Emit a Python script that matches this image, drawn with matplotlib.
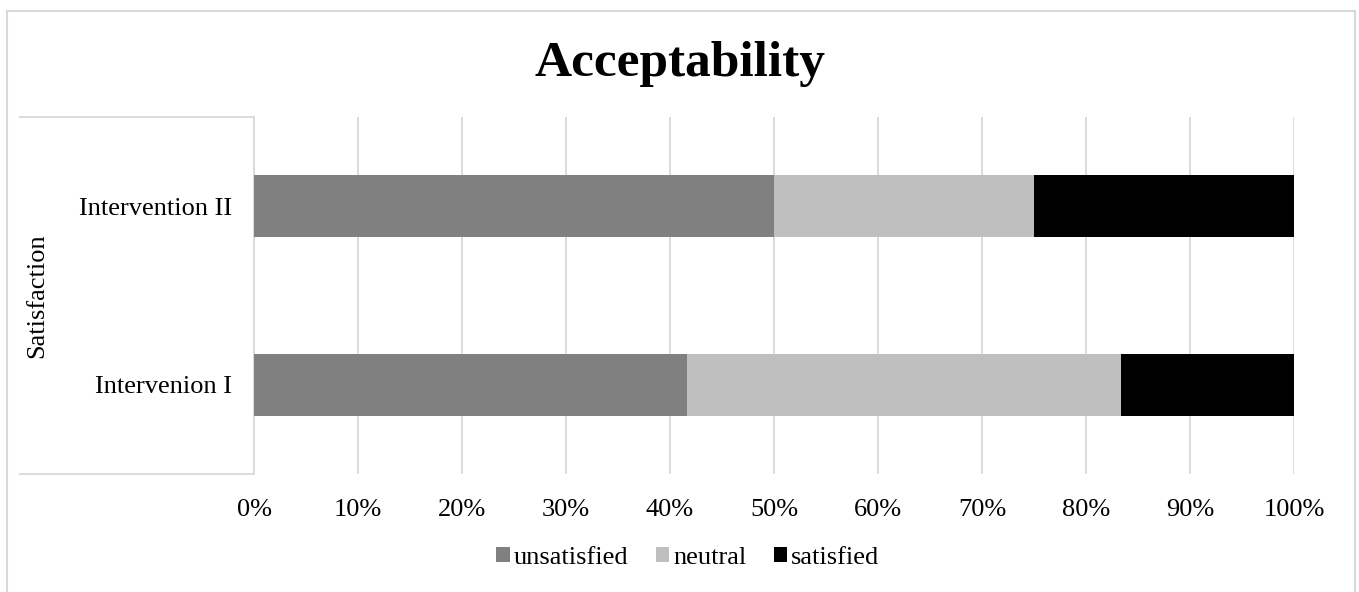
import numpy as np
import matplotlib
matplotlib.use("Agg")
import matplotlib.pyplot as plt
from matplotlib.lines import Line2D

# ── data ─────────────────────────────────────────────────────────────────────

categories   = ["Intervenion I", "Intervention II"]
unsatisfied  = [41.67, 50.0]
neutral      = [41.67, 25.0]
satisfied    = [16.66, 25.0]
series_names = ["unsatisfied", "neutral", "satisfied"]
colors       = ["#808080", "#BFBFBF", "#000000"]
x_ticks      = np.arange(0, 101, 10)
grid_c       = "#D9D9D9"

plt.rcParams["font.family"] = ["Liberation Serif", "DejaVu Serif"]

W, H = 1359, 592
fig = plt.figure(figsize=(W / 100, H / 100), dpi=100)

def fx(px): return px / W
def fy(py): return 1 - py / H

ax = fig.add_axes([fx(254), fy(474), fx(1294) - fx(254), fy(117) - fy(474)])

y = np.arange(len(categories))
left = np.zeros(len(categories))
for vals, name, c in zip([unsatisfied, neutral, satisfied], series_names, colors):
    ax.barh(y, vals, left=left, height=0.35, color=c, label=name, zorder=3)
    left += np.array(vals)

ax.set_xlim(0, 100)
ax.set_ylim(-0.5, 1.5)
ax.set_xticks(x_ticks)
ax.set_xticklabels([f"{t}%" for t in x_ticks], fontsize=19)
ax.set_yticks(y)
ax.set_yticklabels(categories, fontsize=19)
ax.tick_params(axis="x", length=0, pad=18)
ax.tick_params(axis="y", length=0, pad=16)
ax.grid(axis="x", color=grid_c, lw=1.3, zorder=0)
for s in ["top", "right", "bottom"]:
    ax.spines[s].set_visible(False)
ax.spines["left"].set_color(grid_c)
ax.spines["left"].set_linewidth(1.3)

# multi-level category box
for (x0, y0, x1, y1) in [(20, 117, 254, 117), (20, 474, 254, 474)]:
    fig.add_artist(Line2D([fx(x0), fx(x1)], [fy(y0), fy(y1)], color=grid_c, lw=1.3))
fig.text(fx(37), fy(296), "Satisfaction", rotation=90, ha="center", va="center", fontsize=19)

# chart border
for (x0, y0, x1, y1) in [(7, 11, 1355, 11), (7, 11, 7, 600), (1355, 11, 1355, 600)]:
    fig.add_artist(Line2D([fx(x0), fx(x1)], [fy(y0), fy(y1)], color=grid_c, lw=1.5))

fig.text(fx(680), fy(64), "Acceptability", ha="center", va="center",
         fontsize=37, fontweight="bold")

fig.legend(loc="center", bbox_to_anchor=(fx(688), fy(558)), ncol=3, frameon=False,
           fontsize=19, handlelength=0.5, handleheight=0.5, handletextpad=0.15,
           columnspacing=1.05)

fig.savefig("out.png", dpi=100)
